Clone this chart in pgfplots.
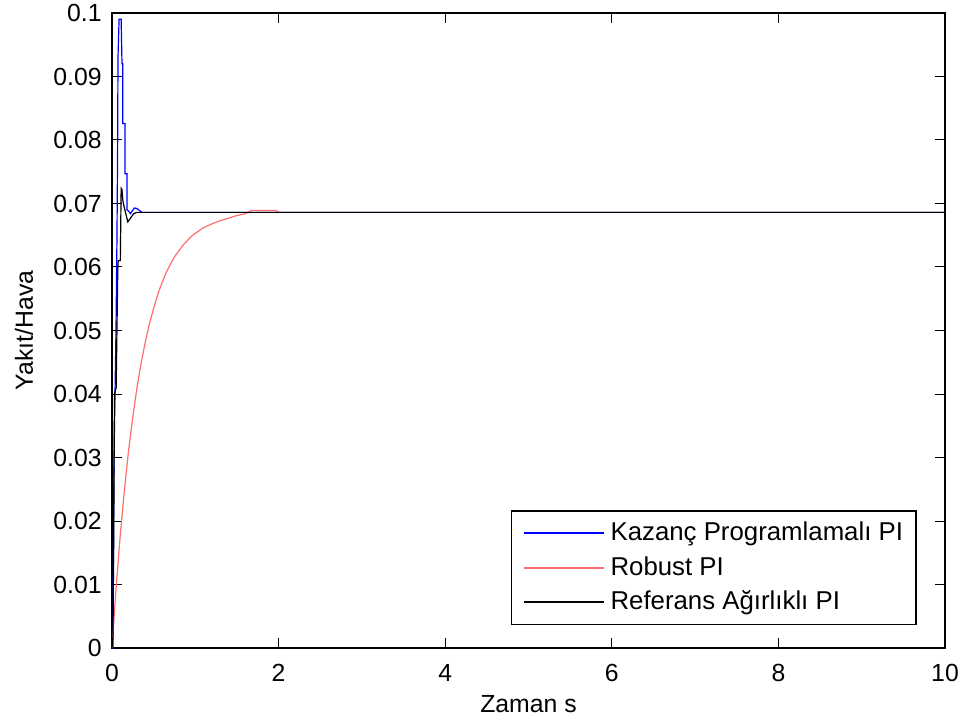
\documentclass[border=0pt]{standalone}
\usepackage{fontspec}
\setmainfont{Liberation Sans}
\usepackage{pgfplots}
\pgfplotsset{compat=1.18}
\definecolor{mblue}{RGB}{0,0,255}
\definecolor{mred}{RGB}{255,110,110}

\begin{document}
\fontsize{12.4}{14.8}\selectfont
\begin{tikzpicture}
\begin{axis}[
    scale only axis, width=416.5pt, height=317.5pt,
    xmin=0, xmax=10, ymin=0, ymax=0.1,
    xtick={0,2,4,6,8,10}, xticklabels={0,2,4,6,8,10},
    ytick={0,0.01,0.02,0.03,0.04,0.05,0.06,0.07,0.08,0.09,0.1},
    yticklabels={0,0.01,0.02,0.03,0.04,0.05,0.06,0.07,0.08,0.09,0.1},
    tick align=inside, major tick length=5pt,
    tick style={line width=0.5pt, black},
    axis line style={line width=0.6pt},
    xticklabel style={anchor=north, inner sep=0pt, yshift=-8pt},
    yticklabel style={anchor=east, inner sep=0pt, xshift=-5pt},
    xlabel={Zaman s}, ylabel={Yakıt/Hava},
    xlabel style={at={(axis description cs:0.5,-0.1008)}, anchor=base},
    ylabel style={at={(axis description cs:-0.095,0.5)}, anchor=base},
    legend cell align=left,
    legend style={at={(axis description cs:0.966,0.036)}, anchor=south east,
        draw, line width=0.6pt, inner xsep=5.5pt, inner ysep=5.5pt,
        row sep=6pt, column sep=2pt, font=\fontsize{12.9}{15}\selectfont,
        nodes={inner xsep=1pt, inner ysep=0pt}},
    legend image code/.code={\draw[#1, line width=1pt] (0pt,0pt) -- (40pt,0pt);},
]
% Kazanc Programlamali PI
\addplot[mblue, line width=0.6pt] coordinates {
    (0,0) (0.012,0) (0.018,0.0165) (0.024,0.030) (0.036,0.040) (0.048,0.050)
    (0.060,0.065) (0.068,0.080) (0.072,0.093) (0.085,0.099) (0.11,0.099)
    (0.12,0.092) (0.13,0.092) (0.13,0.0826) (0.155,0.0826) (0.155,0.0747)
    (0.18,0.0747) (0.18,0.0690) (0.20,0.0688) (0.22,0.0684) (0.27,0.0693)
    (0.30,0.0692) (0.36,0.0686) (10,0.0686)
};
\addlegendentry{Kazanç Programlamalı PI}
% Robust PI
\addplot[mred, line width=0.6pt] coordinates {
    (0,0) (0.05,0.0096) (0.10,0.0179) (0.15,0.0250) (0.20,0.0312)
    (0.25,0.0364) (0.30,0.0410) (0.35,0.0449) (0.40,0.0482) (0.45,0.0511)
    (0.50,0.0535) (0.55,0.0557) (0.60,0.0575) (0.65,0.0591) (0.70,0.0604)
    (0.75,0.0616) (0.80,0.0625) (0.85,0.0634) (0.90,0.0641) (0.95,0.0648)
    (1.00,0.0653) (1.10,0.0662) (1.20,0.0668) (1.30,0.0673) (1.40,0.0677)
    (1.50,0.0681) (1.60,0.0684) (1.67,0.0689) (1.97,0.0689) (2.0,0.0686) (10,0.0686)
};
\addlegendentry{Robust PI}
% Referans Agirlikli PI
\addplot[black, line width=0.6pt] coordinates {
    (0,0) (0.012,0.002) (0.020,0.016) (0.030,0.040) (0.050,0.041)
    (0.070,0.060) (0.075,0.061) (0.10,0.061) (0.11,0.0724) (0.12,0.0722)
    (0.13,0.0705) (0.145,0.0695) (0.19,0.0671) (0.26,0.0684) (0.30,0.0686)
    (10,0.0686)
};
\addlegendentry{Referans Ağırlıklı PI}
\end{axis}
\pgfresetboundingbox
\path ([shift={(-56pt,-37pt)}]current axis.south west)
    rectangle ([shift={(10.5pt,6.5pt)}]current axis.north east);
\end{tikzpicture}
\end{document}
